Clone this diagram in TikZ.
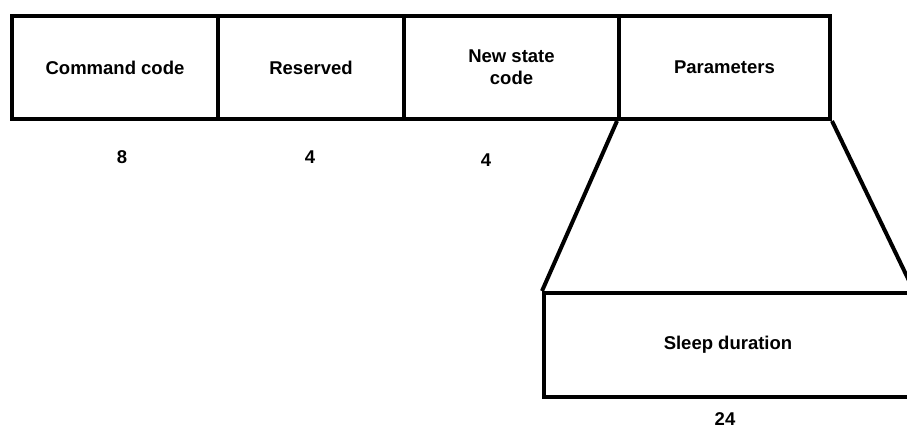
\documentclass[tikz,border=0pt]{standalone}
\usepackage{fontspec}
\setmainfont{Liberation Sans}
\begin{document}
\begin{tikzpicture}[x=1pt,y=-1pt,
  field/.style={draw=black,line width=4pt,minimum height=103pt,inner sep=0pt,
    font=\fontsize{18.5}{22}\selectfont\bfseries,align=center,anchor=north west},
  lbl/.style={font=\fontsize{18.5}{22}\selectfont\bfseries,inner sep=0pt},
  link/.style={line width=4pt}]
\path[use as bounding box] (0,0) rectangle (907,431);
\clip (0,0) rectangle (907,431);
\node[field,minimum width=206pt] (cmd) at (10,14) {Command code};
\node[field,minimum width=186pt] (res) at (216,14) {Reserved};
\node[field,minimum width=215pt] (nsc) at (402,14) {New state\\code};
\node[field,minimum width=211pt] (par) at (617,14) {Parameters};
\node[field,minimum width=368pt,minimum height=104pt] (slp) at (542,291) {Sleep duration};
\node[lbl] (n8) at (122,157) {8};
\node[lbl] (n4a) at (310,157) {4};
\node[lbl] (n4b) at (486,160) {4};
\node[lbl] (n24) at (725,419) {24};
\draw[link] (par.south west) -- (slp.north west);
\draw[link] (par.south east) -- (slp.north east);
\end{tikzpicture}
\end{document}
